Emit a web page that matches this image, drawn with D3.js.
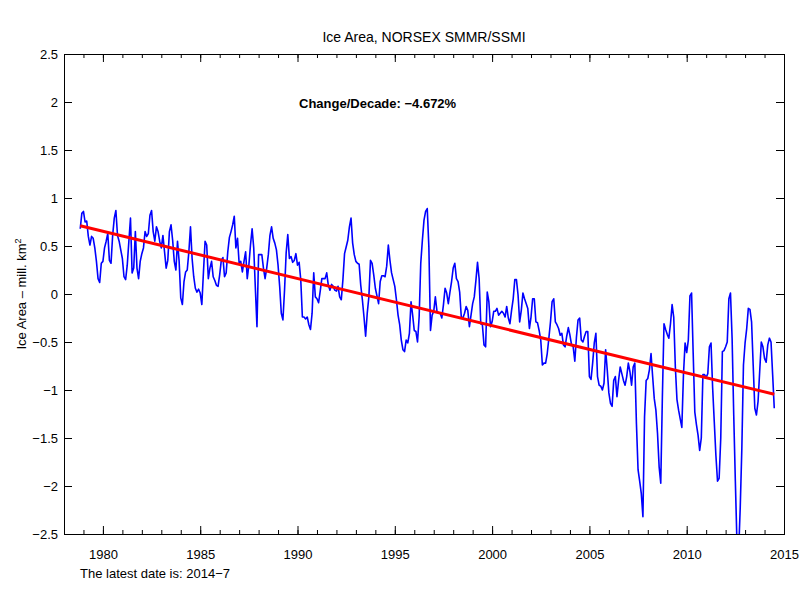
<!DOCTYPE html>
<html>
<head>
<meta charset="utf-8">
<script src="https://cdnjs.cloudflare.com/ajax/libs/d3/7.8.5/d3.min.js"></script>
<style>
	body { margin: 0; background: #fff; font-family: "Liberation Sans", Arial, sans-serif; }
	.tick text { font-size: 13px; fill: #000; }
	.title { font-size: 14px; text-anchor: middle; }
	.note { font-size: 13px; }
	.trendText { font-size: 13px; font-weight: bold; }
</style>
</head>
<body>
<div id="chart"></div>
<script>
	//////////////////////////////// Data ////////////////////////////////
	// monthly ice area anomaly (mill. km2), first month Nov 1978, last Jul 2014
	var firstYear = 1978,
		firstMonth = 11;
	var iceAnomaly = [
		0.68, 0.84, 0.86, 0.75, 0.76, 0.60, 0.51, 0.60, 0.58, 0.48, 0.34, 0.16,
		0.12, 0.32, 0.34, 0.48, 0.55, 0.63, 0.35, 0.32, 0.61, 0.79, 0.87, 0.61,
		0.55, 0.46, 0.37, 0.18, 0.15, 0.30, 0.55, 0.79, 0.22, 0.27, 0.65, 0.27,
		0.16, 0.34, 0.42, 0.48, 0.65, 0.60, 0.63, 0.82, 0.87, 0.65, 0.55, 0.70,
		0.65, 0.55, 0.48, 0.61, 0.44, 0.27, 0.35, 0.65, 0.72, 0.56, 0.34, 0.25,
		0.55, 0.34, -0.04, -0.11, 0.13, 0.23, 0.25, 0.44, 0.70, 0.37, 0.18, 0.06,
		0.02, 0.05, 0.01, -0.11, 0.23, 0.55, 0.51, 0.16, 0.27, 0.34, 0.18, 0.14,
		0.09, 0.08, 0.20, 0.35, 0.38, 0.18, 0.22, 0.44, 0.59, 0.65, 0.72, 0.81,
		0.48, 0.58, 0.32, 0.34, 0.23, 0.34, 0.44, 0.16, 0.30, 0.51, 0.68, 0.48,
		0.06, -0.34, 0.41, 0.41, 0.41, 0.27, 0.16, 0.27, 0.41, 0.61, 0.70, 0.58,
		0.53, 0.46, 0.30, 0.08, -0.20, -0.27, 0.04, 0.43, 0.62, 0.37, 0.39, 0.33,
		0.35, 0.42, 0.30, 0.33, 0.15, -0.24, -0.24, -0.26, -0.24, -0.32, -0.37, -0.20,
		0.22, -0.03, -0.05, -0.09, 0.03, 0.16, 0.16, 0.16, 0.22, 0.09, 0.04, 0.10,
		0.08, 0.04, 0.03, 0.08, -0.03, -0.06, 0.15, 0.42, 0.49, 0.56, 0.70, 0.79,
		0.53, 0.41, 0.34, 0.32, 0.31, 0.09, -0.06, -0.24, -0.44, -0.20, -0.03, 0.35,
		0.32, 0.20, 0.06, -0.02, -0.10, 0.13, 0.19, 0.19, 0.18, 0.29, 0.51, 0.35,
		0.22, 0.15, 0.08, -0.06, -0.22, -0.32, -0.48, -0.58, -0.60, -0.48, -0.51, -0.41,
		-0.08, -0.22, -0.38, -0.39, -0.50, -0.24, 0.32, 0.56, 0.77, 0.86, 0.89, 0.49,
		-0.38, -0.22, -0.18, -0.03, -0.18, -0.20, -0.20, -0.25, -0.11, 0.06, 0.01, -0.10,
		0.02, 0.13, 0.27, 0.32, 0.16, 0.13, 0.02, -0.24, -0.25, -0.20, -0.13, -0.17,
		-0.34, -0.22, -0.10, -0.03, 0.14, 0.33, 0.16, -0.31, -0.32, -0.53, -0.55, 0.02,
		-0.08, -0.34, -0.29, -0.18, -0.18, -0.15, -0.22, -0.20, -0.18, -0.20, -0.24, -0.13,
		-0.25, -0.31, -0.17, -0.05, 0.15, 0.15, -0.01, -0.29, -0.17, 0.01, -0.05, -0.10,
		-0.15, -0.36, -0.24, -0.05, -0.05, -0.29, -0.30, -0.38, -0.48, -0.74, -0.72, -0.72,
		-0.62, -0.46, -0.29, -0.08, -0.05, -0.29, -0.32, -0.36, -0.43, -0.41, -0.53, -0.55,
		-0.44, -0.35, -0.43, -0.53, -0.55, -0.70, -0.45, -0.27, -0.25, -0.48, -0.50, -0.44,
		-0.39, -0.39, -0.86, -0.89, -0.72, -0.51, -0.41, -0.86, -0.95, -0.96, -1.00, -0.93,
		-0.58, -0.79, -1.03, -1.14, -1.17, -0.90, -0.86, -1.07, -0.90, -0.76, -0.83, -0.90,
		-0.95, -0.86, -0.72, -0.81, -0.95, -0.76, -0.72, -1.35, -1.83, -1.95, -2.08, -2.32,
		-1.28, -0.90, -0.88, -0.79, -0.62, -0.86, -1.09, -1.21, -1.45, -1.80, -1.97, -1.07,
		-0.31, -0.37, -0.42, -0.46, -0.31, -0.11, -0.24, -0.76, -1.10, -1.21, -1.30, -1.39,
		-0.84, -0.51, -0.61, -0.48, -0.02, 0.01, -0.62, -1.23, -1.36, -1.47, -1.63, -1.50,
		-0.84, -0.84, -0.87, -0.83, -0.55, -0.51, -0.98, -1.33, -1.68, -1.95, -1.92, -1.50,
		-0.60, -0.59, -0.55, -0.50, -0.05, 0.01, -0.46, -1.26, -1.95, -2.60, -2.70, -2.23,
		-1.61, -0.74, -0.51, -0.36, -0.15, -0.16, -0.29, -0.74, -1.19, -1.26, -1.12, -0.81,
		-0.50, -0.55, -0.67, -0.71, -0.53, -0.46, -0.50, -0.84, -1.19
	];
	var xTicks = [1980, 1985, 1990, 1995, 2000, 2005, 2010, 2015];
	var yTicks = [-2.5, -2, -1.5, -1, -0.5, 0, 0.5, 1, 1.5, 2, 2.5];
	var changePerDecade = "Change/Decade: \u22124.672%";
	var latestDate = "The latest date is: 2014\u22127";

	/////////////////////////// Set up the svg ///////////////////////////
	var margin = { top: 54, right: 16, bottom: 66, left: 64 };
	var width = 800 - margin.left - margin.right,
		height = 600 - margin.top - margin.bottom;

	var svg = d3.select("#chart").append("svg")
		.attr("width", 800)
		.attr("height", 600)
		.append("g")
		.attr("transform", "translate(" + margin.left + "," + margin.top + ")");

	var x = d3.scaleLinear().domain([1978, 2015]).range([0, width]);
	var y = d3.scaleLinear().domain([-2.5, 2.5]).range([height, 0]);

	var data = iceAnomaly.map(function(v, i) {
		return { t: firstYear + (firstMonth - 1 + i) / 12, v: v };
	});

	//least squares trend line
	var n = data.length,
		mt = d3.mean(data, function(d) { return d.t; }),
		mv = d3.mean(data, function(d) { return d.v; });
	var slope = d3.sum(data, function(d) { return (d.t - mt) * (d.v - mv); }) /
		d3.sum(data, function(d) { return (d.t - mt) * (d.t - mt); });
	var trend = [data[0], data[n - 1]].map(function(d) {
		return { t: d.t, v: mv + slope * (d.t - mt) };
	});

	svg.append("defs").append("clipPath").attr("id", "plotClip")
		.append("rect").attr("width", width).attr("height", height);

	//////////////////////////////// Lines ///////////////////////////////
	var line = d3.line()
		.x(function(d) { return x(d.t); })
		.y(function(d) { return y(d.v); });

	var plot = svg.append("g").attr("clip-path", "url(#plotClip)");

	plot.append("path")
		.datum(data)
		.attr("d", line)
		.style("fill", "none")
		.style("stroke", "#0000ff")
		.style("stroke-width", 1.6)
		.style("stroke-linejoin", "round");

	plot.append("path")
		.datum(trend)
		.attr("d", line)
		.style("fill", "none")
		.style("stroke", "#ff0000")
		.style("stroke-width", 3);

	//////////////////////////////// Axes ////////////////////////////////
	var minorYears = d3.range(1978, 2016);

	function styleAxis(g) {
		g.select(".domain").remove();
		g.selectAll(".tick line").style("stroke", "#000").style("stroke-width", 1);
	}

	//bottom
	svg.append("g")
		.attr("transform", "translate(0," + height + ")")
		.call(d3.axisBottom(x).tickValues(minorYears).tickSize(-4).tickFormat(""))
		.call(styleAxis);
	svg.append("g")
		.attr("transform", "translate(0," + height + ")")
		.call(d3.axisBottom(x).tickValues(xTicks).tickSize(-8).tickPadding(16).tickFormat(d3.format("d")))
		.call(styleAxis);

	//top
	svg.append("g")
		.call(d3.axisTop(x).tickValues(minorYears).tickSize(-4).tickFormat(""))
		.call(styleAxis);
	svg.append("g")
		.call(d3.axisTop(x).tickValues(xTicks).tickSize(-8).tickFormat(""))
		.call(styleAxis);

	//left and right
	svg.append("g")
		.call(d3.axisLeft(y).tickValues(yTicks).tickSize(-8).tickPadding(6).tickFormat(d3.format("")))
		.call(styleAxis);
	svg.append("g")
		.attr("transform", "translate(" + width + ",0)")
		.call(d3.axisRight(y).tickValues(yTicks).tickSize(-8).tickFormat(""))
		.call(styleAxis);

	svg.selectAll(".tick text").style("font-family", "Liberation Sans, Arial, sans-serif");

	//frame
	svg.append("rect")
		.attr("x", 0.5)
		.attr("y", 0.5)
		.attr("width", width)
		.attr("height", height)
		.style("fill", "none")
		.style("stroke", "#000")
		.style("stroke-width", 1);

	//////////////////////////////// Texts ///////////////////////////////
	svg.append("text")
		.attr("class", "title")
		.attr("x", width / 2)
		.attr("y", -12)
		.text("Ice Area, NORSEX SMMR/SSMI");

	svg.append("text")
		.attr("class", "trendText")
		.attr("x", 299 - margin.left)
		.attr("y", 54)
		.text(changePerDecade);

	var yLabel = svg.append("text")
		.attr("class", "note")
		.attr("transform", "translate(" + (26 - margin.left) + "," + (height / 2) + ") rotate(-90)")
		.style("text-anchor", "middle");
	yLabel.append("tspan").text("Ice Area \u2013 mill. km");
	yLabel.append("tspan").attr("dy", -5).style("font-size", "9px").text("2");

	svg.append("text")
		.attr("class", "note")
		.attr("x", 80 - margin.left)
		.attr("y", 578 - margin.top)
		.text(latestDate);
</script>
</body>
</html>
